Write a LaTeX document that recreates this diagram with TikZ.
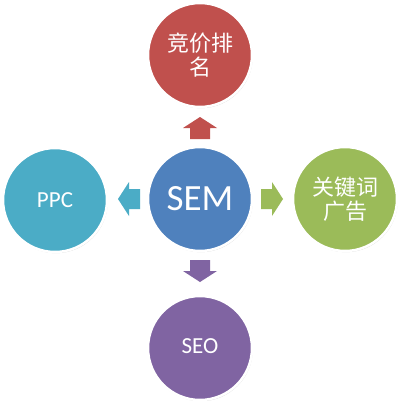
\documentclass[tikz,border=0pt]{standalone}
\usepackage{fontspec}
\setmainfont{Carlito}
\newfontfamily\cjk{Noto Sans CJK SC}
\usetikzlibrary{shadows}
\definecolor{cred}{HTML}{C0504D}
\definecolor{cblue}{HTML}{4F81BD}
\definecolor{cteal}{HTML}{4BACC6}
\definecolor{cgreen}{HTML}{9BBB59}
\definecolor{cpurple}{HTML}{8064A2}
\tikzset{
  bub/.style={circle, draw=white, line width=2.5pt, minimum size=104pt, inner sep=0pt,
    text=white, align=center,
    drop shadow={shadow xshift=0.8pt, shadow yshift=-1.2pt, opacity=0.25, fill=black!60}},
  blkarrow/.pic={\fill[pic actions] (-11,-10) -- (0,-10) -- (0,-17) -- (11,0) -- (0,17) -- (0,10) -- (-11,10) -- cycle;}
}
\begin{document}
\begin{tikzpicture}[x=1pt,y=-1pt]
\useasboundingbox[fill=white] (0,0) rectangle (400,401);
\node[bub, fill=cblue, font=\fontsize{37}{40}\selectfont] (sem) at (200,199) {SEM};
\node[bub, fill=cred, font=\cjk\fontsize{22}{24}\selectfont] (jj) at (200,55) {竞价排\\名};
\node[bub, fill=cteal, font=\fontsize{23}{25}\selectfont] (ppc) at (55,200) {PPC};
\node[bub, fill=cgreen, font=\cjk\fontsize{22}{24}\selectfont] (gjc) at (345,199) {关键词\\广告};
\node[bub, fill=cpurple, font=\fontsize{23}{25}\selectfont] (seo) at (200,348) {\raisebox{4pt}{SEO}};
\coordinate (a1) at (200,128);
\coordinate (a2) at (129,199);
\coordinate (a3) at (272,199);
\coordinate (a4) at (200,271);
\pic[fill=cred, rotate=90] at (a1) {blkarrow};
\pic[fill=cteal, rotate=180] at (a2) {blkarrow};
\pic[fill=cgreen] at (a3) {blkarrow};
\pic[fill=cpurple, rotate=-90] at (a4) {blkarrow};
\end{tikzpicture}
\end{document}
